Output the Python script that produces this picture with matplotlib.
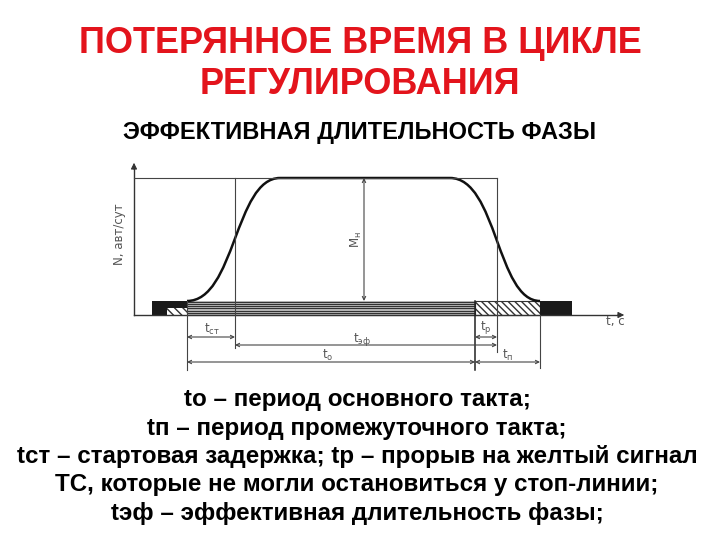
import matplotlib
matplotlib.use("Agg")
import matplotlib.pyplot as plt
from matplotlib.path import Path
from matplotlib.patches import PathPatch, Rectangle

plt.rcParams["font.family"] = ["Liberation Sans", "DejaVu Sans"]

# schematic time marks (pixel positions along the t axis)
t_start = 187      # start of green / start of flow
t_st_end = 235     # end of start delay
t_top_start = 280  # flow reaches saturation
t_top_end = 450    # flow starts to fall
t_ef_end = 497     # end of effective green
t_yellow = 475     # start of intermediate interval
t_stop = 540       # flow stops
# flow levels (pixel positions along the N axis)
n_zero = 301
n_sat = 178
base_y = 315

title_lines = ["ПОТЕРЯННОЕ ВРЕМЯ В ЦИКЛЕ", "РЕГУЛИРОВАНИЯ"]
subtitle = "ЭФФЕКТИВНАЯ ДЛИТЕЛЬНОСТЬ ФАЗЫ"
notes = [
    "tо – период основного такта;",
    "tп – период промежуточного такта;",
    "tст – стартовая задержка; tр – прорыв на желтый сигнал",
    "ТС, которые не могли остановиться у стоп-линии;",
    "tэф – эффективная длительность фазы;",
]

fig = plt.figure(figsize=(7.2, 5.4), dpi=100)
ax = fig.add_axes([0, 0, 1, 1])
ax.set_xlim(0, 720)
ax.set_ylim(540, 0)
ax.axis("off")

thin = dict(color="#444444", lw=0.8)
gray = "#555555"

# bars under the axis
ax.add_patch(Rectangle((152, n_zero), t_start - 152, base_y - n_zero, color="#1a1a1a", lw=0))
ax.add_patch(Rectangle((167, 308), t_start - 167, base_y - 308, facecolor="white",
                       edgecolor="#333333", hatch="\\\\\\\\", lw=0))
ax.add_patch(Rectangle((t_start, n_zero), t_yellow - t_start, base_y - n_zero,
                       facecolor="#bbbbbb", lw=0))
for yy in [301.5, 303.5, 305.5, 308, 310.5, 313, 315]:
    ax.plot([t_start, t_yellow], [yy, yy], color="#333333", lw=0.8)
ax.add_patch(Rectangle((t_yellow, n_zero), t_stop - t_yellow, base_y - n_zero,
                       facecolor="white", edgecolor="#333333", hatch="\\\\\\\\\\", lw=0.8))
ax.add_patch(Rectangle((t_stop, n_zero), 572 - t_stop, base_y - n_zero, color="#1a1a1a", lw=0))

# axes
ax.plot([134, 620], [base_y, base_y], color="#333333", lw=1.0)
ax.annotate("", xy=(627, base_y), xytext=(615, base_y),
            arrowprops=dict(arrowstyle="-|>", color="#333333", lw=0.8, mutation_scale=9))
ax.plot([134, 134], [base_y, 168], color="#333333", lw=1.0)
ax.annotate("", xy=(134, 160), xytext=(134, 172),
            arrowprops=dict(arrowstyle="-|>", color="#333333", lw=0.8, mutation_scale=9))

# saturation level line
ax.plot([134, t_ef_end], [n_sat, n_sat], **thin)

# flow curve
verts = [
    (t_start, n_zero),
    (t_st_end, n_zero), (t_st_end, n_sat), (t_top_start, n_sat),
    (t_top_end, n_sat),
    (t_ef_end, n_sat), (t_ef_end, n_zero), (t_stop, n_zero),
]
codes = [Path.MOVETO, Path.CURVE4, Path.CURVE4, Path.CURVE4,
         Path.LINETO, Path.CURVE4, Path.CURVE4, Path.CURVE4]
ax.add_patch(PathPatch(Path(verts, codes), facecolor="none", edgecolor="#111111", lw=1.8))

# extension lines
ax.plot([t_st_end, t_st_end], [n_sat, 348], **thin)
ax.plot([t_ef_end, t_ef_end], [n_sat, 352], **thin)
ax.plot([t_start, t_start], [n_zero, 370], **thin)
ax.plot([t_yellow, t_yellow], [n_zero, 370], color="#222222", lw=1.1)
ax.plot([t_stop, t_stop], [base_y, 368], **thin)


def dim(x0, x1, y, style="<->"):
    ax.annotate("", xy=(x1, y), xytext=(x0, y),
                arrowprops=dict(arrowstyle=style, color="#444444", lw=0.8,
                                mutation_scale=6, shrinkA=0, shrinkB=0))


dim(t_start, t_st_end, 337)
dim(t_st_end, t_ef_end, 345)
dim(t_yellow, t_ef_end, 337)
dim(t_start, t_yellow, 362)
dim(t_yellow, t_stop, 362)
ax.annotate("", xy=(364, n_sat), xytext=(364, n_zero),
            arrowprops=dict(arrowstyle="<->", color="#444444", lw=0.8,
                            mutation_scale=6, shrinkA=0, shrinkB=0))

# diagram labels
lab = dict(color=gray, fontsize=8.5, ha="center", va="center", family="DejaVu Sans")
ax.text(120, 234, "N, авт/сут", rotation=90, **lab)
ax.text(356, 240, r"M$_{\mathrm{н}}$", rotation=90, **lab)
ax.text(212, 329, r"t$_{\mathrm{ст}}$", **lab)
ax.text(362, 340, r"t$_{\mathrm{эф}}$", **lab)
ax.text(486, 327, r"t$_{\mathrm{р}}$", **lab)
ax.text(328, 355, r"t$_{\mathrm{о}}$", **lab)
ax.text(508, 355, r"t$_{\mathrm{п}}$", **lab)
ax.text(615, 322, "t, c", **lab)

# titles
for y, line in zip([53, 94], title_lines):
    ax.text(360, y, line, color="#e3141c", fontsize=26, fontweight="bold",
            ha="center", va="baseline")
ax.text(360, 139, subtitle, color="black", fontsize=17, fontweight="bold",
        ha="center", va="baseline")

for i, line in enumerate(notes):
    ax.text(357, 406 + i * 28.5, line, color="black", fontsize=17.4, fontweight="bold",
            ha="center", va="baseline")

fig.savefig("out.png", dpi=100)
